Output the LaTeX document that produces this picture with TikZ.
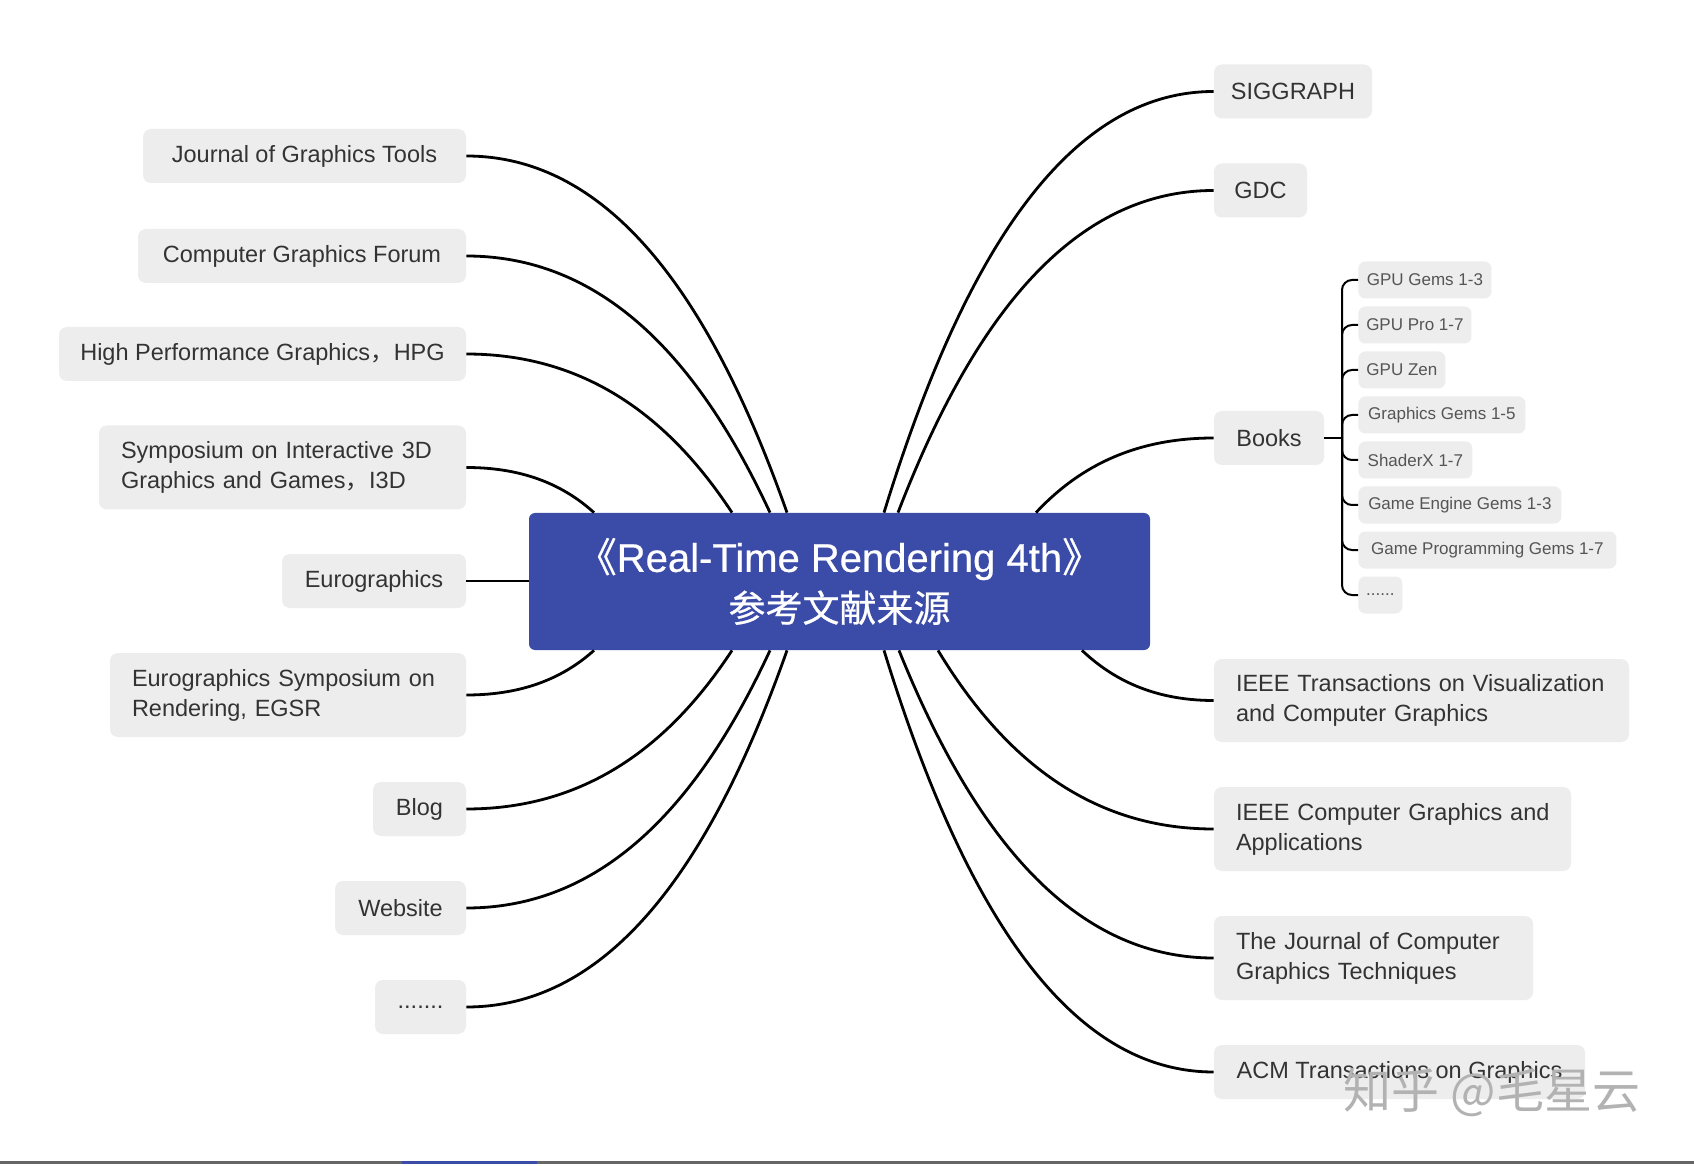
\documentclass[tikz,border=0pt]{standalone}
\usepackage{fontspec}
\setmainfont{Liberation Sans}
\newfontfamily\cjk{Noto Sans CJK SC}
\newfontfamily\titlefont{Liberation Sans}[FakeBold=0.6]
\newfontfamily\cjktitle{Noto Sans CJK SC}[FakeBold=0.6]
\definecolor{boxgray}{HTML}{EDEDED}
\definecolor{txt}{HTML}{333333}
\definecolor{subtxt}{HTML}{555555}
\definecolor{rootblue}{HTML}{3B4BA8}
\begin{document}
\begin{tikzpicture}[x=0.5pt,y=-0.5pt,
  leaf/.style={fill=boxgray, rounded corners=4pt, text=txt, font=\fontsize{11.75pt}{15pt}\selectfont, inner sep=0pt, minimum height=27pt, align=center},
  leaftwo/.style={fill=boxgray, rounded corners=4pt, text=txt, font=\fontsize{11.75pt}{15pt}\selectfont, inner xsep=11pt, inner ysep=0pt, minimum height=42pt, align=left},
  subleaf/.style={fill=boxgray, rounded corners=3.5pt, text=subtxt, font=\fontsize{8.5pt}{10pt}\selectfont, inner sep=0pt, minimum height=18.5pt, anchor=west},
  conn/.style={line width=1.4pt, black},
  subconn/.style={line width=1pt, black}]
\useasboundingbox[fill=white] (0,0) rectangle (1694,1166);

% root
\node[fill=rootblue, rounded corners=3pt, text=white, minimum width=310.5pt, minimum height=68.5pt, inner sep=0pt, align=center,
      font=\titlefont\fontsize{20pt}{25pt}\selectfont] (root) at (839.5,581.5)
      {{\cjktitle 《}Real-Time Rendering 4th{\cjktitle 》}\\{\cjktitle\fontsize{18.5pt}{25pt}\selectfont 参考文献来源}};

% left nodes
\node[leaf, minimum width=161.5pt] (jgt) at (304.5,156) {Journal of Graphics Tools};
\node[leaf, minimum width=164pt] (cgf) at (302,256) {Computer Graphics Forum};
\node[leaf, minimum width=203.5pt] (hpg) at (262.5,354) {High Performance Graphics{\cjk ，}HPG};
\node[leaftwo, text width=161.5pt] (i3d) at (282.5,467.5) {\mbox{Symposium on Interactive 3D}\\\mbox{Graphics and Games{\cjk ，}I3D}};
\node[leaf, minimum width=92pt] (euro) at (374,581) {Eurographics};
\node[leaftwo, text width=156pt] (egsr) at (288,695) {\mbox{Eurographics Symposium on}\\\mbox{Rendering, EGSR}};
\node[leaf, minimum width=46.5pt] (blog) at (419.5,809) {Blog};
\node[leaf, minimum width=65.5pt] (web) at (400.5,908) {Website};
\node[leaf, minimum width=45.5pt] (ldots) at (420.5,1007) {.......};

% right nodes
\node[leaf, minimum width=79pt] (sig) at (1293,91.5) {SIGGRAPH};
\node[leaf, minimum width=46.5pt] (gdc) at (1260.5,190.5) {GDC};
\node[leaf, minimum width=55pt] (books) at (1269,438) {Books};
\node[leaftwo, text width=185.5pt, minimum height=41.5pt] (tvcg) at (1421.5,700.5) {\mbox{IEEE Transactions on Visualization}\\\mbox{and Computer Graphics}};
\node[leaftwo, text width=156.5pt] (cga) at (1392.5,829) {\mbox{IEEE Computer Graphics and}\\\mbox{Applications}};
\node[leaftwo, text width=137.5pt] (jcgt) at (1373.5,958) {\mbox{The Journal of Computer}\\\mbox{Graphics Techniques}};
\node[leaf, minimum width=185.5pt] (acm) at (1399.5,1072) {ACM Transactions on Graphics};

% book items
\node[subleaf, minimum width=66.5pt] (g1) at (1358,280) {GPU Gems 1-3};
\node[subleaf, minimum width=56.5pt] (g2) at (1358,325) {GPU Pro 1-7};
\node[subleaf, minimum width=43.5pt] (g3) at (1358,370) {GPU Zen};
\node[subleaf, minimum width=83.5pt] (g4) at (1358,415) {Graphics Gems 1-5};
\node[subleaf, minimum width=57pt] (g5) at (1358,460) {ShaderX 1-7};
\node[subleaf, minimum width=101.5pt] (g6) at (1358,505) {Game Engine Gems 1-3};
\node[subleaf, minimum width=129pt] (g7) at (1358,550) {Game Programming Gems 1-7};
\node[subleaf, minimum width=22pt] (g8) at (1358,595) {......};

% left connectors
\draw[conn] (787,0 |- root.north) .. controls +(-70.6,-200) and +(151,0) .. (jgt.east);
\draw[conn] (770,0 |- root.north) .. controls +(-66.9,-143.9) and +(142.9,0) .. (cgf.east);
\draw[conn] (732,0 |- root.north) .. controls +(-58.5,-89) and +(125,0) .. (hpg.east);
\draw[conn] (594,0 |- root.north) .. controls +(-28.2,-25.5) and +(60.2,0) .. (i3d.east);
\draw[conn] (root.west |- euro.east) -- (euro.east);
\draw[conn] (594,0 |- root.south) .. controls +(-28.2,25.2) and +(60.2,0) .. (egsr.east);
\draw[conn] (732,0 |- root.south) .. controls +(-58.5,89) and +(125,0) .. (blog.east);
\draw[conn] (770,0 |- root.south) .. controls +(-66.9,144.5) and +(142.9,0) .. (web.east);
\draw[conn] (787,0 |- root.south) .. controls +(-70.6,200) and +(150.9,0) .. (ldots.east);

% right connectors
\draw[conn] (884,0 |- root.north) .. controls +(72.6,-236) and +(-155,0) .. (sig.west);
\draw[conn] (898,0 |- root.north) .. controls +(69.5,-180.6) and +(-148.5,0) .. (gdc.west);
\draw[conn] (1036,0 |- root.north) .. controls +(39.2,-42) and +(-83.7,0) .. (books.west);
\draw[conn] (1082,0 |- root.south) .. controls +(29,27.4) and +(-62,0) .. (tvcg.west);
\draw[conn] (938,0 |- root.south) .. controls +(60.7,100.2) and +(-129.7,0) .. (cga.west);
\draw[conn] (899,0 |- root.south) .. controls +(69.3,171.9) and +(-148,0) .. (jcgt.west);
\draw[conn] (884,0 |- root.south) .. controls +(72.6,235.8) and +(-155,0) .. (acm.west);

% books bracket
\coordinate (bj) at (1342,438);
\draw[subconn] (books.east) -- (bj);
\foreach \g in {g1,g2,g3,g4,g5,g6,g7,g8}
  \draw[subconn, rounded corners=5pt] (bj) |- (\g.west);

% watermark
\node[text=black!30, font=\cjk\fontsize{24pt}{28pt}\selectfont, inner sep=0pt] (wm) at (1492,1092) {知乎 @毛星云};

% bottom bar
\draw[line width=1.5pt, black!60] (0,1162) -- (1694,1162);
\draw[line width=1.5pt, rootblue] (402,1162) -- (537,1162);
\end{tikzpicture}
\end{document}
